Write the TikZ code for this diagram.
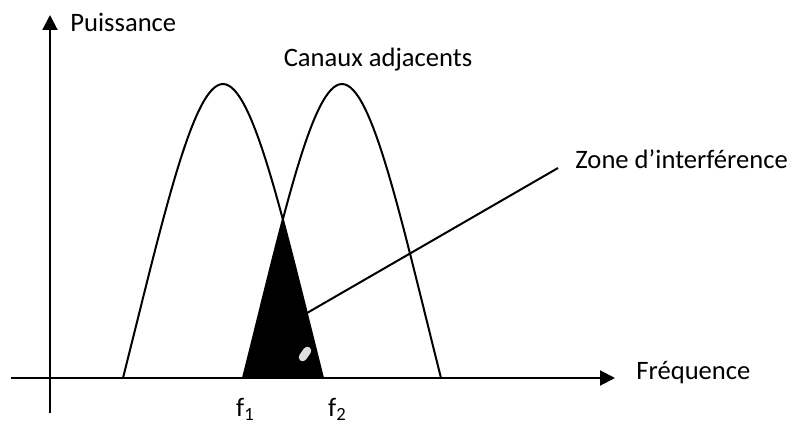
\documentclass[tikz,border=0pt]{standalone}
\usepackage{fontspec}
\setmainfont{Carlito}
\usetikzlibrary{arrows.meta}

\begin{document}
\begin{tikzpicture}[
  x=0.5pt, y=-0.5pt,
  axis/.style={line width=1pt, -{Triangle[length=7.5pt,width=7.5pt]}},
  canal/.style={line width=1pt},
  txt/.style={font=\fontsize{13.3}{15}\selectfont, inner sep=0pt}
]
\useasboundingbox (0,0) rectangle (792,422);
% axes
\coordinate (ybas) at (50,413);
\coordinate (yhaut) at (50,15);
\coordinate (xgauche) at (11,378);
\coordinate (xdroite) at (615,378);
\draw[axis] (ybas) -- (yhaut);
\draw[axis] (xgauche) -- (xdroite);
\node[txt, anchor=base west] (puissance) at (70,32) {Puissance};
\node[txt, anchor=base west] (frequence) at (636,379) {Fréquence};

% zone d'interference (intersection des deux canaux)
\begin{scope}
  \clip (123,378) .. controls (163,219) and (193,84) .. (223,84)
        .. controls (253,84) and (283,219) .. (323,378) -- cycle;
  \fill (243,378) .. controls (283,219) and (312,84) .. (342,84)
        .. controls (372,84) and (401,219) .. (441,378) -- cycle;
\end{scope}
\fill[gray!25, rounded corners=2pt, rotate around={55:(305,354)}]
  (297,350) rectangle (313,358);

% canaux
\draw[canal] (123,378) .. controls (163,219) and (193,84) .. (223,84)
      .. controls (253,84) and (283,219) .. (323,378);
\draw[canal] (243,378) .. controls (283,219) and (312,84) .. (342,84)
      .. controls (372,84) and (401,219) .. (441,378);
\node[txt, anchor=base] (canaux) at (378,67) {Canaux adjacents};

\node[txt, anchor=base] (f1) at (245.5,416) {f\textsubscript{1}};
\node[txt, anchor=base] (f2) at (337.5,416) {f\textsubscript{2}};

\node[txt, anchor=base west] (zone) at (575,169) {Zone d’interférence};
\coordinate (zonept) at (307,313);
\coordinate (zonefin) at (558,168);
\draw[canal] (zonept) -- (zonefin);
\end{tikzpicture}
\end{document}
